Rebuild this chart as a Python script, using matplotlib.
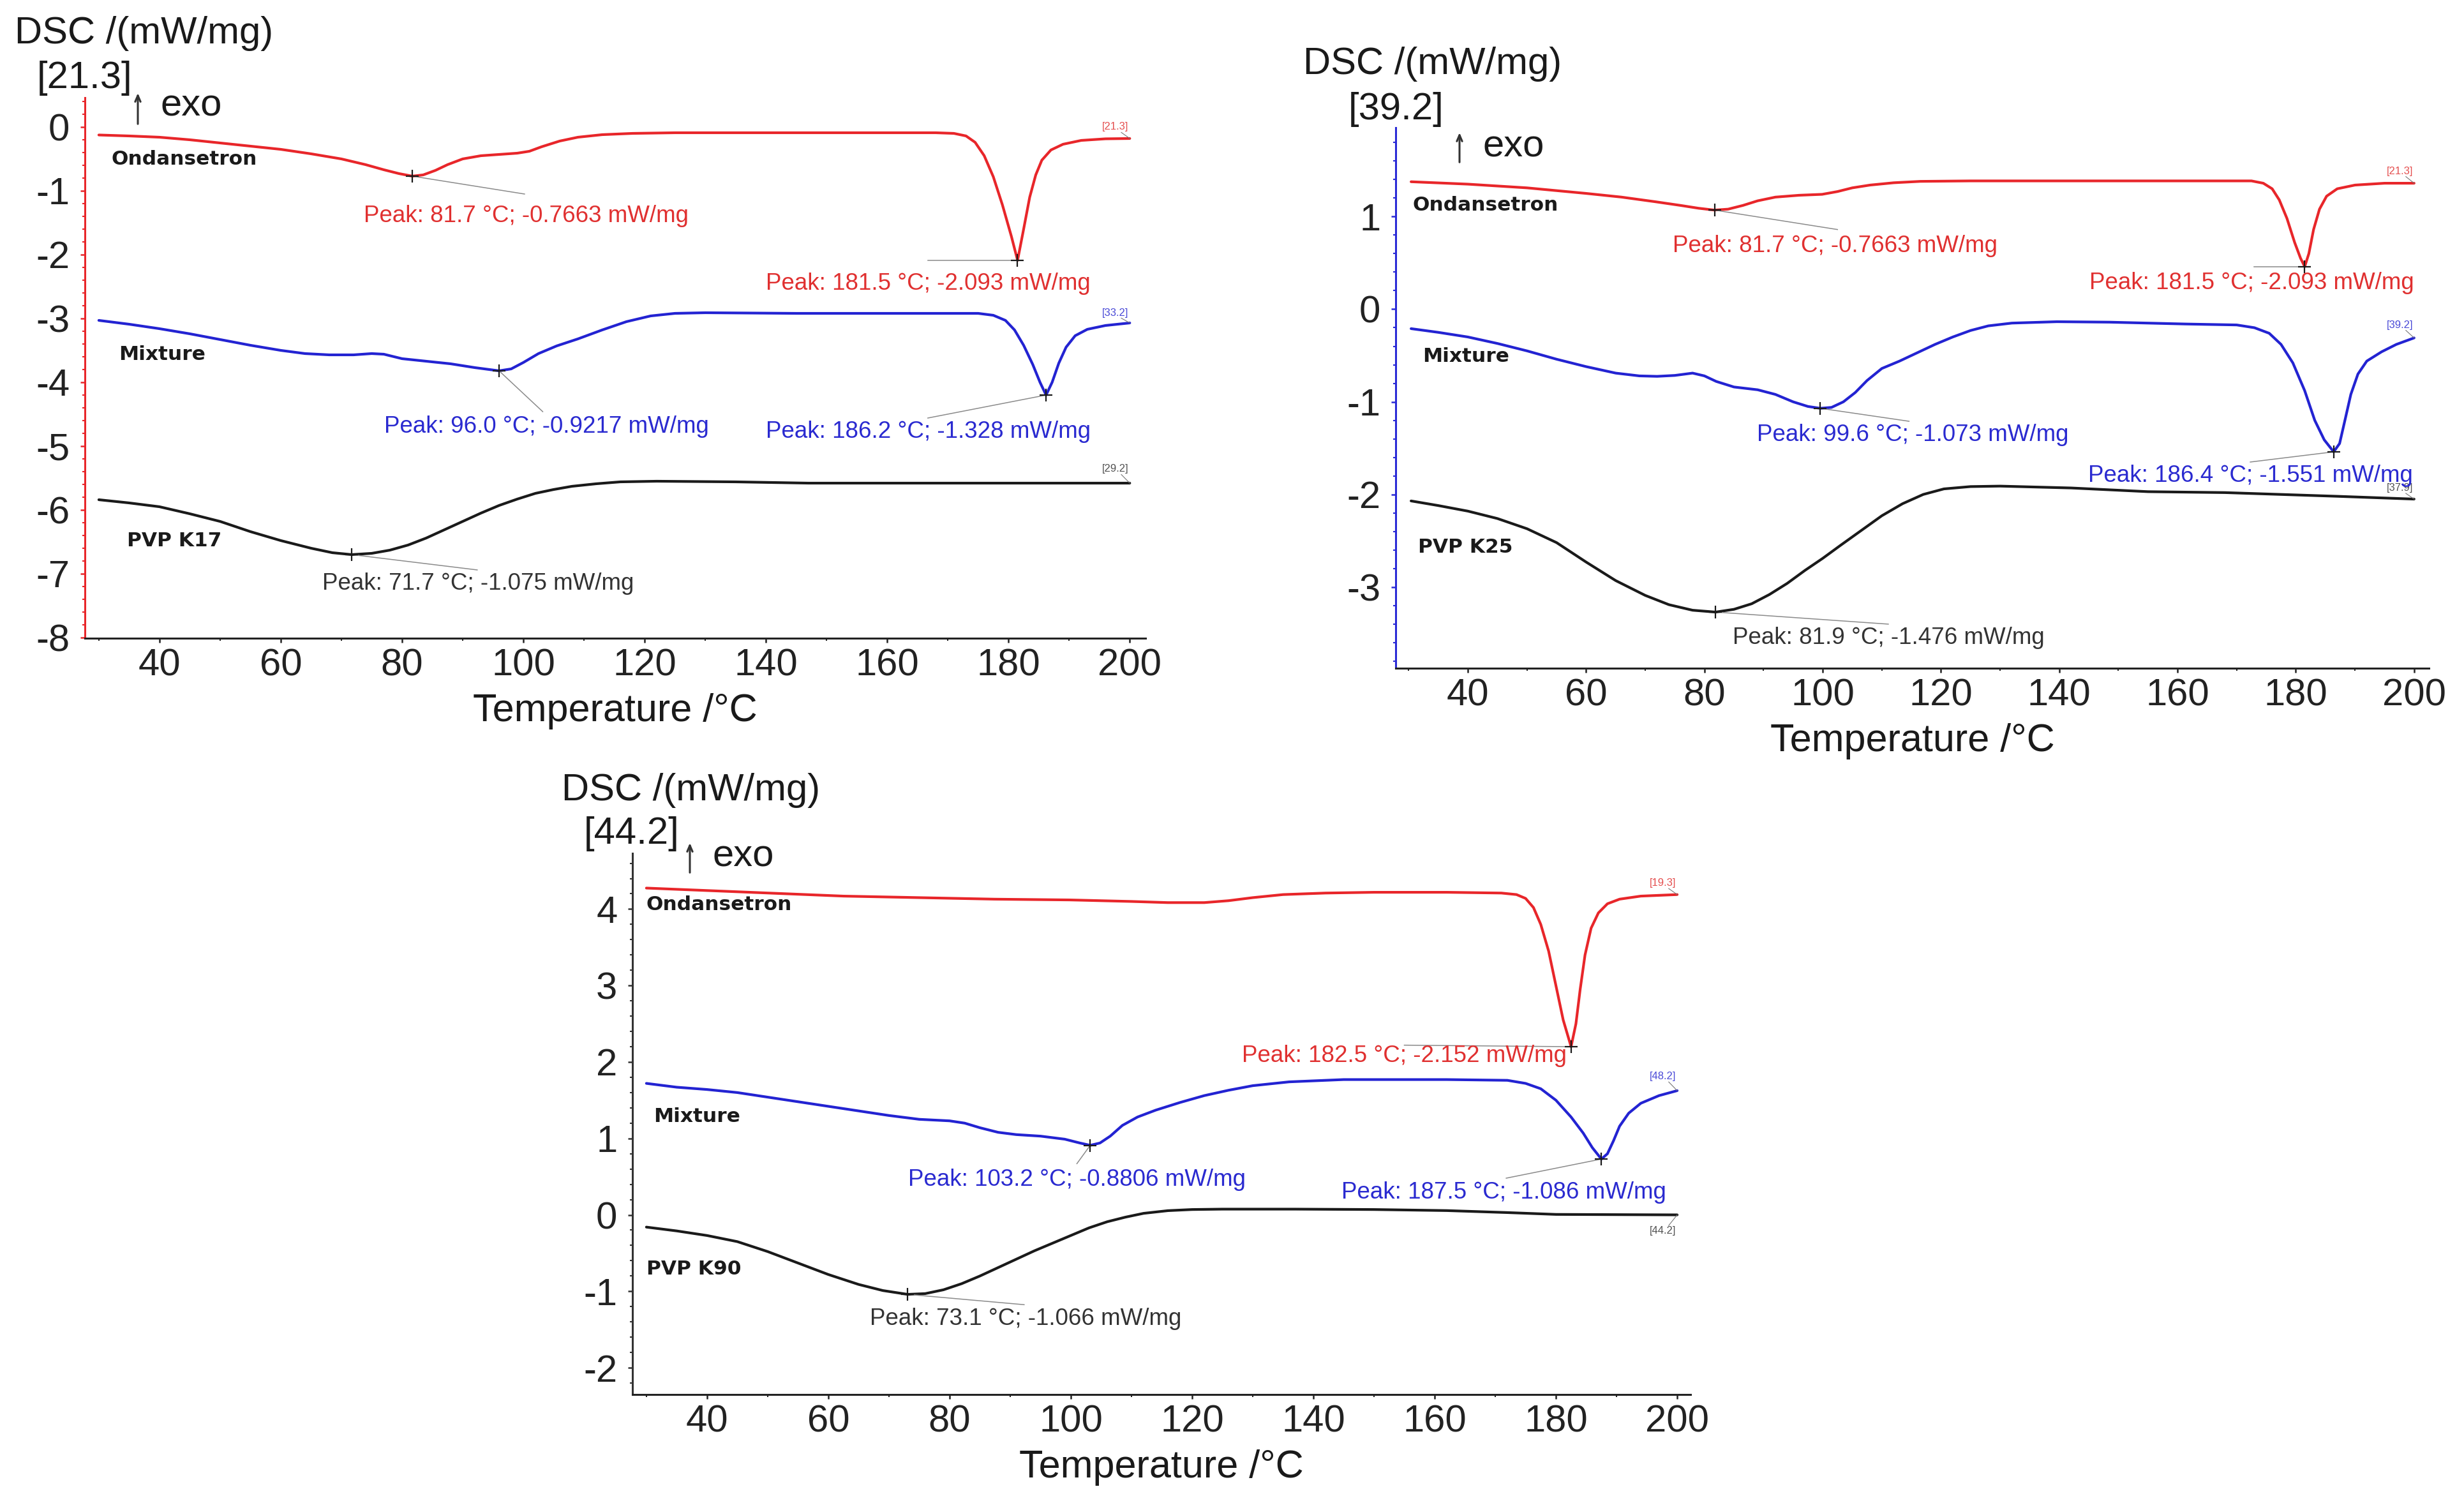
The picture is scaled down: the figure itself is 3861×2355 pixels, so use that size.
import matplotlib
matplotlib.use('Agg')
import matplotlib.pyplot as plt
from matplotlib.ticker import MultipleLocator, FormatStrFormatter

W, H = 3862, 2355
plt.rcParams['font.family'] = ['Liberation Sans', 'DejaVu Sans']
plt.rcParams['axes.unicode_minus'] = False

# ---------------- data ----------------
# Panel 1 : Ondansetron / Mixture / PVP K17
p1_ond_T = [30, 35, 40, 45, 50, 55, 60, 65, 70, 74, 77, 79.5, 81.7, 83.5, 85.5, 87.5, 90, 93, 96, 99, 101, 103,
            106, 109, 113, 118, 125, 140, 155, 168, 171, 173, 174.5, 176, 177.5, 179, 180.5, 181.5, 182.5, 183.5,
            184.5, 185.5, 187, 189, 192, 196, 200]
p1_ond_v = [-0.125, -0.14, -0.16, -0.2, -0.25, -0.3, -0.35, -0.42, -0.5, -0.59, -0.67, -0.73, -0.77, -0.75, -0.68,
            -0.59, -0.5, -0.45, -0.43, -0.41, -0.38, -0.31, -0.22, -0.16, -0.12, -0.10, -0.09, -0.09, -0.09, -0.09,
            -0.10, -0.14, -0.24, -0.45, -0.78, -1.22, -1.72, -2.09, -1.6, -1.1, -0.75, -0.52, -0.36, -0.27, -0.21,
            -0.185, -0.18]
p1_mix_T = [30, 35, 40, 45, 50, 55, 60, 64, 68, 72, 75, 77, 80, 84, 88, 92, 96, 98, 100, 102.5, 105.5, 109, 113,
            117, 121, 125, 130, 145, 165, 175, 177.5, 179.5, 181, 182.5, 184, 185.2, 186.2, 187.2, 188.3, 189.5,
            191, 193, 196, 200]
p1_mix_v = [-3.03, -3.09, -3.16, -3.24, -3.33, -3.42, -3.5, -3.55, -3.57, -3.57, -3.55, -3.56, -3.63, -3.67, -3.71,
            -3.77, -3.82, -3.79, -3.69, -3.55, -3.43, -3.32, -3.18, -3.05, -2.96, -2.92, -2.91, -2.92, -2.92, -2.92,
            -2.95, -3.03, -3.18, -3.42, -3.72, -4.0, -4.20, -4.0, -3.7, -3.45, -3.27, -3.17, -3.11, -3.07]
p1_pvp_T = [30, 35, 40, 45, 50, 55, 60, 65, 68.5, 71.7, 75, 78, 81, 84, 87, 90, 93, 96, 99, 102, 105, 108, 112,
            116, 122, 135, 147, 170, 200]
p1_pvp_v = [-5.84, -5.89, -5.95, -6.06, -6.18, -6.34, -6.48, -6.6, -6.67, -6.70, -6.68, -6.63, -6.55, -6.44, -6.31,
            -6.18, -6.05, -5.93, -5.83, -5.74, -5.68, -5.63, -5.59, -5.56, -5.55, -5.56, -5.58, -5.58, -5.58]

# Panel 2 : Ondansetron / Mixture / PVP K25
p2_ond_T = [30.4, 40, 50, 60, 66, 71.7, 76, 79, 81.7, 84, 86.5, 89, 92, 96, 99.9, 102.5, 105, 108, 112, 116.5, 125,
            172.5, 174.5, 176, 177.2, 178.5, 179.8, 180.8, 181.5, 182.2, 183, 184, 185.2, 187, 190, 195, 200]
p2_ond_v = [1.376, 1.35, 1.31, 1.25, 1.21, 1.16, 1.12, 1.09, 1.07, 1.08, 1.12, 1.17, 1.21, 1.23, 1.24, 1.27, 1.31,
            1.34, 1.365, 1.38, 1.385, 1.385, 1.36, 1.3, 1.18, 0.98, 0.72, 0.55, 0.46, 0.6, 0.86, 1.08, 1.22, 1.3,
            1.34, 1.36, 1.36]
p2_mix_T = [30.4, 35, 40, 45, 50, 55, 60, 65, 69, 72, 75, 78, 80, 82, 85, 89, 92, 95, 97.5, 99.6, 101.5, 103.5,
            105.5, 107.5, 110, 113, 116, 119, 122, 125, 128, 132, 139.6, 148.5, 161.4, 170, 173, 175.5, 177.5,
            179.5, 181.5, 183.2, 184.8, 186.4, 187.4, 188.3, 189.3, 190.5, 192, 194.5, 197, 200]
p2_mix_v = [-0.21, -0.25, -0.30, -0.37, -0.45, -0.54, -0.62, -0.69, -0.72, -0.725, -0.715, -0.69, -0.72, -0.78, -0.84,
            -0.87, -0.92, -1.0, -1.05, -1.07, -1.06, -1.0, -0.9, -0.77, -0.64, -0.56, -0.47, -0.38, -0.30, -0.23,
            -0.18, -0.15, -0.135, -0.14, -0.16, -0.17, -0.2, -0.26, -0.38, -0.58, -0.88, -1.2, -1.41, -1.54, -1.45,
            -1.2, -0.92, -0.7, -0.56, -0.46, -0.38, -0.31]
p2_pvp_T = [30.4, 35, 40, 45, 50, 55, 60, 65, 70, 74, 78, 81.9, 85, 88, 91, 94, 97, 100, 103, 106.5, 110, 113.5,
            117, 120.5, 125, 130, 142, 155, 168, 187, 200]
p2_pvp_v = [-2.07, -2.12, -2.18, -2.26, -2.37, -2.52, -2.73, -2.93, -3.09, -3.19, -3.25, -3.27, -3.24, -3.18, -3.08,
            -2.96, -2.82, -2.69, -2.55, -2.39, -2.23, -2.1, -2.0, -1.94, -1.915, -1.91, -1.93, -1.97, -1.98, -2.02,
            -2.05]

# Panel 3 : Ondansetron / Mixture / PVP K90
p3_ond_T = [30, 44, 62.5, 75, 87.4, 99.8, 110, 116, 122, 126, 130, 135, 142, 150, 162, 171, 173.5, 175, 176.3, 177.5,
            178.8, 180, 181.2, 182.5, 183.3, 184, 184.8, 185.8, 187, 188.5, 190.5, 194, 200]
p3_ond_v = [4.275, 4.23, 4.17, 4.15, 4.13, 4.12, 4.1, 4.085, 4.085, 4.11, 4.15, 4.19, 4.21, 4.22, 4.22, 4.21, 4.19,
            4.14, 4.02, 3.8, 3.45, 3.0, 2.55, 2.2, 2.5, 2.95, 3.4, 3.75, 3.95, 4.07, 4.13, 4.17, 4.19]
p3_mix_T = [30, 35, 40, 45, 50, 55, 60, 65, 70, 75, 80, 82.5, 85, 88, 91, 95, 99, 101.5, 103.2, 104.8, 106.5, 108.5,
            111, 114, 118, 122, 126, 130, 136, 145, 162, 172, 175, 177.5, 180, 182.5, 184.5, 186, 187.5, 188.5,
            189.5, 190.5, 192, 194, 197, 200]
p3_mix_v = [1.72, 1.67, 1.64, 1.6, 1.54, 1.48, 1.42, 1.36, 1.3, 1.25, 1.23, 1.2, 1.14, 1.08, 1.05, 1.03, 0.99, 0.94,
            0.91, 0.94, 1.03, 1.17, 1.28, 1.37, 1.47, 1.56, 1.63, 1.69, 1.74, 1.77, 1.77, 1.76, 1.72, 1.65, 1.5,
            1.28, 1.07, 0.88, 0.73, 0.8, 0.97, 1.16, 1.33, 1.46, 1.56, 1.625]
p3_pvp_T = [30, 35, 40, 45, 50, 55, 60, 65, 69, 73.1, 76, 79, 82, 85, 88, 91, 94, 97, 100, 103, 106, 109, 112, 116,
            120, 125, 137, 150, 162, 172, 180, 200]
p3_pvp_v = [-0.16, -0.21, -0.27, -0.35, -0.48, -0.63, -0.78, -0.91, -0.99, -1.04, -1.03, -0.98, -0.9, -0.8, -0.69,
            -0.58, -0.47, -0.37, -0.27, -0.17, -0.09, -0.03, 0.02, 0.055, 0.07, 0.075, 0.075, 0.07, 0.056, 0.03,
            0.006, 0.0]

sample_names = ['Ondansetron', 'Mixture']
pvp_names = ['PVP K17', 'PVP K25', 'PVP K90']
scale_tags = ['[21.3]', '[39.2]', '[44.2]']
end_tags = [['[21.3]', '[33.2]', '[29.2]'], ['[21.3]', '[39.2]', '[37.9]'], ['[19.3]', '[48.2]', '[44.2]']]

# peak annotations: (series index, peak T, plotted value, label text)
p1_peaks = [(0, 81.7, -0.77, 'Peak: 81.7 °C; -0.7663 mW/mg'), (0, 181.5, -2.09, 'Peak: 181.5 °C; -2.093 mW/mg'),
            (1, 96.0, -3.82, 'Peak: 96.0 °C; -0.9217 mW/mg'), (1, 186.2, -4.20, 'Peak: 186.2 °C; -1.328 mW/mg'),
            (2, 71.7, -6.70, 'Peak: 71.7 °C; -1.075 mW/mg')]
p2_peaks = [(0, 81.7, 1.07, 'Peak: 81.7 °C; -0.7663 mW/mg'), (0, 181.5, 0.46, 'Peak: 181.5 °C; -2.093 mW/mg'),
            (1, 99.6, -1.07, 'Peak: 99.6 °C; -1.073 mW/mg'), (1, 186.4, -1.54, 'Peak: 186.4 °C; -1.551 mW/mg'),
            (2, 81.9, -3.27, 'Peak: 81.9 °C; -1.476 mW/mg')]
p3_peaks = [(0, 182.5, 2.2, 'Peak: 182.5 °C; -2.152 mW/mg'),
            (1, 103.2, 0.91, 'Peak: 103.2 °C; -0.8806 mW/mg'), (1, 187.5, 0.73, 'Peak: 187.5 °C; -1.086 mW/mg'),
            (2, 73.1, -1.04, 'Peak: 73.1 °C; -1.066 mW/mg')]

# ---------------- layout (positions only) ----------------
p1_ann = [((100.2, -1.05), (100.5, -1.40)), ((166.7, -2.09), (166.8, -2.45)), ((103.2, -4.46), (103.8, -4.70)),
          ((166.7, -4.56), (166.8, -4.77)), ((92.4, -6.94), (92.5, -7.16))]
p2_ann = [((102.5, 0.86), (102.1, 0.68)), ((172.9, 0.46), (172.5, 0.28)), ((114.6, -1.21), (115.2, -1.36)),
          ((172.3, -1.65), (172.3, -1.80)), ((111.1, -3.40), (111.1, -3.55))]
p3_ann = [((155.0, 2.22), (155.0, 2.08)), ((101.0, 0.67), (101.0, 0.46)), ((171.8, 0.48), (171.4, 0.29)),
          ((92.3, -1.175), (92.6, -1.36))]
name_pos = [[(32.1, -0.51), (33.3, -3.57), (34.6, -6.48)],
            [(30.7, 1.12), (32.3, -0.51), (31.6, -2.57)],
            [(30.0, 4.06), (31.2, 1.29), (30.0, -0.71)]]
tag_pos = [[0.0, -2.91, -5.36], [1.49, -0.17, -1.93], [4.34, 1.81, -0.21]]

boxes = [(133, 1795, 153, 1000), (2187, 3806, 200, 1047), (991, 2649, 1337, 2185)]
xlims = [(27.7, 202.6), (27.8, 202.5), (27.7, 202.2)]
ylims = [(-8.01, 0.46), (-3.876, 1.96), (-2.35, 4.73)]
spine_cols = ['#e8262a', '#2a2ad6', '#333333']
dsc_pos = [(23, 68), (2042, 116), (880, 1254)]
tag_px = [(58, 138), (2113, 187), (915, 1322)]
arrow_px = [(216, 143, 197), (2287, 205, 257), (1081, 1318, 1370)]
exo_px = [(252, 182), (2323, 245), (1117, 1358)]

line_cols = ['#e8262a', '#2323d2', '#1a1a1a']
text_cols = ['#e03030', '#2a2ad0', '#333333']

fig = plt.figure(figsize=(W / 100, H / 100), dpi=100)

def ftext(xp, yp, s, **kw):
    fig.text(xp / W, 1 - yp / H, s, **kw)

panels = [
    ([(p1_ond_T, p1_ond_v), (p1_mix_T, p1_mix_v), (p1_pvp_T, p1_pvp_v)], p1_peaks, p1_ann),
    ([(p2_ond_T, p2_ond_v), (p2_mix_T, p2_mix_v), (p2_pvp_T, p2_pvp_v)], p2_peaks, p2_ann),
    ([(p3_ond_T, p3_ond_v), (p3_mix_T, p3_mix_v), (p3_pvp_T, p3_pvp_v)], p3_peaks, p3_ann),
]

for i, (series, peaks, ann) in enumerate(panels):
    l, r, t, b = boxes[i]
    ax = fig.add_axes([l / W, 1 - b / H, (r - l) / W, (b - t) / H])
    ax.set_xlim(*xlims[i])
    ax.set_ylim(*ylims[i])
    for s in ['top', 'right']:
        ax.spines[s].set_visible(False)
    ax.spines['left'].set_color(spine_cols[i])
    ax.spines['left'].set_linewidth(2.2)
    ax.spines['bottom'].set_color('#222222')
    ax.spines['bottom'].set_linewidth(2.2)
    ax.xaxis.set_major_locator(MultipleLocator(20))
    ax.xaxis.set_minor_locator(MultipleLocator(10))
    ax.yaxis.set_major_locator(MultipleLocator(1))
    ax.yaxis.set_minor_locator(MultipleLocator(0.2))
    ax.yaxis.set_major_formatter(FormatStrFormatter('%d'))
    ax.tick_params(axis='x', which='major', length=5, width=1.8, pad=6, labelsize=43, colors='#222222')
    ax.tick_params(axis='x', which='minor', length=3, width=1.5, colors='#222222')
    ax.tick_params(axis='y', which='major', length=5, width=1.8, pad=12, labelsize=43, color=spine_cols[i],
                   labelcolor='#222222')
    ax.tick_params(axis='y', which='minor', length=3, width=1.5, color=spine_cols[i])
    ax.patch.set_alpha(0)

    for k, (T, v) in enumerate(series):
        ax.plot(T, v, color=line_cols[k], lw=3.0, solid_joinstyle='round', solid_capstyle='round')
        nx, ny = name_pos[i][k]
        name = sample_names[k] if k < 2 else pvp_names[i]
        ax.text(nx, ny, name, family=['DejaVu Sans'], fontweight='bold', fontsize=22.5, color='#1a1a1a',
                ha='left', va='center')
        ty = tag_pos[i][k]
        ax.text(197.6, ty, end_tags[i][k], fontsize=12, color=text_cols[k], ha='center', va='center', alpha=0.85)
        ax.plot([198.6, T[-1]], [ty - (0.06 if ty > v[-1] else -0.06) * (ylims[i][1] - ylims[i][0]) / 6, v[-1]],
                color='#777777', lw=0.8)

    for (k, pT, pv, txt), (lead, lab) in zip(peaks, ann):
        ax.plot([pT, lead[0]], [pv, lead[1]], color='#8a8a8a', lw=1.1)
        ax.plot([pT], [pv], marker='+', ms=14, mew=1.6, color='#1a1a1a')
        ax.text(lab[0], lab[1], txt, fontsize=26.5, color=text_cols[k], ha='center', va='center')

    cx = (l + r) / 2
    ftext(cx, b + 130, 'Temperature /°C', fontsize=44, color='#1a1a1a', ha='center', va='baseline')
    ftext(dsc_pos[i][0], dsc_pos[i][1], 'DSC /(mW/mg)', fontsize=43, color='#1a1a1a', ha='left', va='baseline')
    ftext(tag_px[i][0], tag_px[i][1], scale_tags[i], fontsize=43, color='#1a1a1a', ha='left', va='baseline')
    ftext(exo_px[i][0], exo_px[i][1], 'exo', fontsize=43, color='#1a1a1a', ha='left', va='baseline')
    axp = arrow_px[i]
    ax.annotate('', xy=(axp[0] / W, 1 - axp[1] / H), xytext=(axp[0] / W, 1 - axp[2] / H),
                xycoords='figure fraction', textcoords='figure fraction', annotation_clip=False,
                arrowprops=dict(arrowstyle='->,head_length=0.7,head_width=0.3', lw=2.2, color='#333333'))

fig.savefig('out.png', dpi=100)
